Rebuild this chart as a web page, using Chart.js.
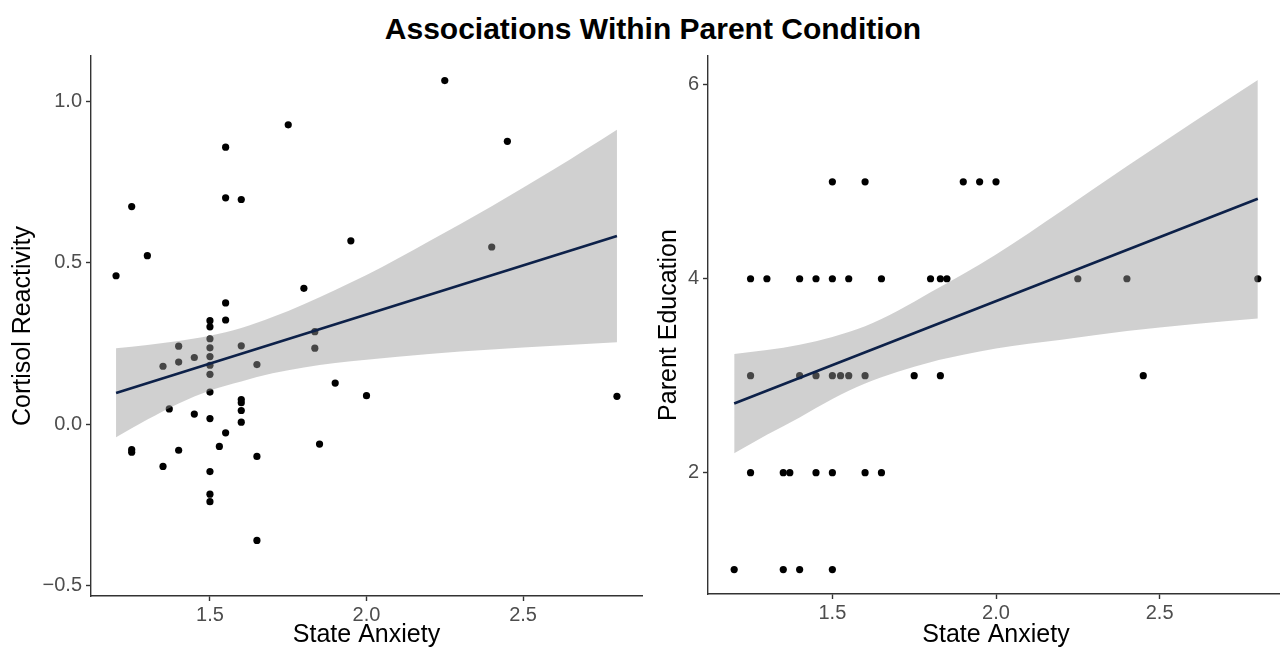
<!DOCTYPE html>
<html>
<head>
<meta charset="utf-8">
<script src="https://cdn.jsdelivr.net/npm/chart.js@4.4.1/dist/chart.umd.min.js"></script>
<style>
  html, body { margin: 0; padding: 0; background: #fff; width: 1280px; height: 650px; overflow: hidden; }
  #title { position: absolute; left: 0; top: 12px; width: 1306px; text-align: center;
           font: bold 30px "Liberation Sans", Arial, sans-serif; color: #000; }
  .panel { position: absolute; top: 40px; height: 610px; }
  #leftPanel { left: 0; width: 650px; }
  #rightPanel { left: 650px; width: 638px; }
</style>
</head>
<body>
<div id="title">Associations Within Parent Condition</div>
<div class="panel" id="leftPanel"><canvas id="cortisolChart"></canvas></div>
<div class="panel" id="rightPanel"><canvas id="educationChart"></canvas></div>
<script>
const font = "'Liberation Sans', Arial, sans-serif";

// left panel: state anxiety vs cortisol reactivity
const cortisolAnxiety = [
  1.75, 1.55, 1.55, 1.60, 1.25, 1.30, 1.20, 1.80, 1.55, 1.55,
  1.50, 1.50, 1.50, 1.50, 1.50, 1.50, 1.50, 1.50, 1.50, 1.60,
  1.40, 1.35, 1.40, 1.45, 1.65, 1.835, 1.835, 1.37, 1.45, 1.60,
  1.60, 1.60, 1.60, 1.55, 1.25, 1.25, 1.40, 1.53, 1.65, 1.35,
  1.50, 1.50, 1.50, 1.65, 1.85, 2.25, 2.45, 1.95, 2.40, 1.90,
  2.00, 2.80,
];
const cortisolReactivity = [
  0.927, 0.858, 0.701, 0.696, 0.674, 0.522, 0.460, 0.421, 0.376, 0.323,
  0.321, 0.302, 0.265, 0.237, 0.210, 0.183, 0.155, 0.100, 0.018, 0.243,
  0.242, 0.180, 0.193, 0.207, 0.185, 0.287, 0.236, 0.048, 0.032, 0.077,
  0.067, 0.043, 0.007, -0.026, -0.078, -0.086, -0.080, -0.068, -0.099, -0.130,
  -0.146, -0.216, -0.239, -0.359, -0.061, 1.064, 0.876, 0.568, 0.549, 0.128,
  0.089, 0.087,
];

// right panel: state anxiety vs parent education
const educationAnxiety = [
  1.50, 1.60, 1.90, 1.95, 2.00,
  1.25, 1.30, 1.40, 1.45, 1.50, 1.55, 1.65, 1.80, 1.83, 1.85, 2.25, 2.40, 2.80,
  1.25, 1.40, 1.45, 1.50, 1.525, 1.55, 1.60, 1.75, 1.83, 2.45,
  1.25, 1.35, 1.37, 1.45, 1.50, 1.60, 1.65,
  1.20, 1.35, 1.40, 1.50,
];
const parentEducation = [
  5, 5, 5, 5, 5,
  4, 4, 4, 4, 4, 4, 4, 4, 4, 4, 4, 4, 4,
  3, 3, 3, 3, 3, 3, 3, 3, 3, 3,
  2, 2, 2, 2, 2, 2, 2,
  1, 1, 1, 1,
];

// fitted lines and confidence bands
const fitX = [1.2, 2.8];
const cortisolFit = [0.097, 0.583];
const educationFit = [2.714, 4.826];

const bandX = [1.2, 1.3, 1.4, 1.5, 1.6, 1.7, 1.8, 1.9, 2.0, 2.2, 2.4, 2.6, 2.8];
const cortisolBandHigh = [0.236, 0.246, 0.258, 0.274, 0.298, 0.332, 0.372, 0.416, 0.462, 0.567, 0.675, 0.790, 0.912];
const cortisolBandLow = [-0.040, 0.015, 0.065, 0.105, 0.133, 0.158, 0.176, 0.190, 0.200, 0.218, 0.232, 0.243, 0.254];
const educationBandHigh = [3.225, 3.265, 3.32, 3.40, 3.51, 3.67, 3.86, 4.05, 4.25, 4.70, 5.16, 5.61, 6.05];
const educationBandLow = [2.20, 2.39, 2.57, 2.76, 2.92, 3.04, 3.14, 3.215, 3.28, 3.37, 3.46, 3.53, 3.59];

// axis ticks
const xTicks = [1.5, 2.0, 2.5];
const cortisolTicks = [-0.5, 0.0, 0.5, 1.0];
const educationTicks = [2, 4, 6];

function pairs(xs, ys) {
  return xs.map((x, i) => ({ x, y: ys[i] }));
}

function axisStyle() {
  return {
    border: { display: true, color: "#333", width: 1.4 },
    grid: { display: true, drawOnChartArea: false, drawTicks: true, tickLength: 5, tickWidth: 1.4, color: "#333" },
  };
}

function makePanel(canvasId, cfg) {
  return new Chart(document.getElementById(canvasId), {
    type: "scatter",
    data: {
      datasets: [
        {
          data: pairs(fitX, cfg.fit),
          showLine: true,
          borderColor: "#0d2149",
          borderWidth: 2.6,
          pointRadius: 0,
        },
        {
          data: pairs(bandX, cfg.high),
          showLine: true,
          fill: "+1",
          backgroundColor: "rgba(153,153,153,0.46)",
          borderColor: "rgba(0,0,0,0)",
          cubicInterpolationMode: "monotone",
          pointRadius: 0,
        },
        {
          data: pairs(bandX, cfg.low),
          showLine: true,
          borderColor: "rgba(0,0,0,0)",
          cubicInterpolationMode: "monotone",
          pointRadius: 0,
        },
        {
          data: pairs(cfg.xs, cfg.ys),
          pointRadius: 3.6,
          backgroundColor: "#000",
          borderWidth: 0,
        },
      ],
    },
    options: {
      responsive: true,
      maintainAspectRatio: false,
      animation: false,
      layout: { padding: cfg.padding },
      plugins: { legend: { display: false }, tooltip: { enabled: false } },
      scales: {
        x: {
          type: "linear",
          min: 1.12,
          max: 2.88,
          afterBuildTicks: (s) => { s.ticks = xTicks.map((v) => ({ value: v })); },
          afterFit: (s) => { s.height = cfg.xHeight; },
          ...axisStyle(),
          ticks: { color: "#4d4d4d", font: { size: 20, family: font }, padding: 2, callback: (v) => v.toFixed(1) },
          title: { display: true, text: "State Anxiety", color: "#000", font: { size: 25, family: font }, padding: 0 },
        },
        y: {
          type: "linear",
          min: cfg.yMin,
          max: cfg.yMax,
          afterBuildTicks: (s) => { s.ticks = cfg.yTicks.map((v) => ({ value: v })); },
          afterFit: (s) => { s.width = cfg.yWidth; },
          ...axisStyle(),
          ticks: { color: "#4d4d4d", font: { size: 20, family: font }, padding: 4, callback: cfg.tickLabel },
          title: { display: true, text: cfg.yTitle, color: "#000", font: { size: 25, family: font }, padding: { top: cfg.titlePad, bottom: 0 } },
        },
      },
    },
  });
}

makePanel("cortisolChart", {
  xs: cortisolAnxiety,
  ys: cortisolReactivity,
  fit: cortisolFit,
  high: cortisolBandHigh,
  low: cortisolBandLow,
  yMin: -0.531,
  yMax: 1.14,
  yTicks: cortisolTicks,
  tickLabel: (v) => (v < 0 ? "\u2212" : "") + Math.abs(v).toFixed(1),
  yTitle: "Cortisol Reactivity",
  titlePad: 8,
  yWidth: 91,
  xHeight: 54,
  padding: { top: 13, right: 8, bottom: 0, left: 0 },
});

makePanel("educationChart", {
  xs: educationAnxiety,
  ys: parentEducation,
  fit: educationFit,
  high: educationBandHigh,
  low: educationBandLow,
  yMin: 0.748,
  yMax: 6.298,
  yTicks: educationTicks,
  tickLabel: (v) => String(v),
  yTitle: "Parent Education",
  titlePad: 4,
  yWidth: 58,
  xHeight: 56,
  padding: { top: 14, right: 0, bottom: 0, left: 0 },
});
</script>
</body>
</html>
